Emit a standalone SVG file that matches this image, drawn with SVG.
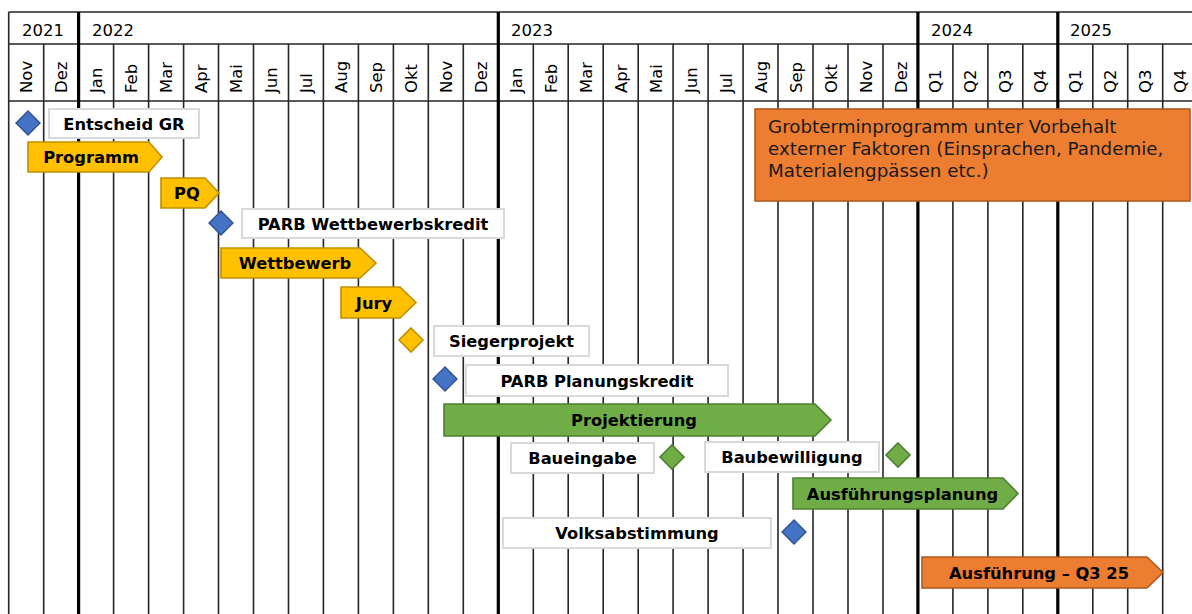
<svg xmlns="http://www.w3.org/2000/svg" width="1192" height="614" viewBox="0 0 1192 614">
<style>
.bg{fill:#fff}
.thin{stroke:#262626;stroke-width:1.6;fill:none}
.thick{stroke:#000;stroke-width:3.2;fill:none}
.hdr{font-family:"DejaVu Sans","Liberation Sans",sans-serif;font-size:16.5px;fill:#000}
.lbl{font-family:"DejaVu Sans","Liberation Sans",sans-serif;font-size:16.3px;font-weight:bold;fill:#000;text-anchor:middle}
.note{font-family:"DejaVu Sans","Liberation Sans",sans-serif;font-size:18.3px;fill:#1a1a1a}
.box{fill:#fff;stroke:#D9D9D9;stroke-width:2}
.yel{fill:#FFC000;stroke:#BF9000;stroke-width:1.6}
.grn{fill:#70AD47;stroke:#507E32;stroke-width:1.6}
.org{fill:#ED7D31;stroke:#AE5A21;stroke-width:1.6}
.blu{fill:#4472C4;stroke:#2F528F;stroke-width:1.4}
</style>
<rect class="bg" x="0" y="0" width="1192" height="614"/>
<g id="grid">
<path class="thin" d="M8.7 12H1192M8.7 44H1192M8.7 101H1192"/>
<path class="thin" d="M8.7 12V614M43.7 44V614M113.6 44V614M148.6 44V614M183.6 44V614M218.5 44V614M253.5 44V614M288.5 44V614M323.4 44V614M358.4 44V614M393.4 44V614M428.3 44V614M463.3 44V614M533.3 44V614M568.2 44V614M603.2 44V614M638.2 44V614M673.1 44V614M708.1 44V614M743.1 44V614M778 44V614M813 44V614M848 44V614M883 44V614M952.9 44V614M987.9 44V614M1022.8 44V614M1092.8 44V614M1127.7 44V614M1162.7 44V614"/>
<path class="thick" d="M78.6 12V614M498.3 12V614M917.9 12V614M1057.8 12V614"/>
</g>
<g id="header" class="hdr">
<text x="22" y="36">2021</text>
<text x="92" y="36">2022</text>
<text x="511" y="36">2023</text>
<text x="931" y="36">2024</text>
<text x="1070" y="36">2025</text>
<text transform="translate(32.2 93) rotate(-90)">Nov</text>
<text transform="translate(67.2 93) rotate(-90)">Dez</text>
<text transform="translate(102.1 93) rotate(-90)">Jan</text>
<text transform="translate(137.1 93) rotate(-90)">Feb</text>
<text transform="translate(172.1 93) rotate(-90)">Mar</text>
<text transform="translate(207.1 93) rotate(-90)">Apr</text>
<text transform="translate(242 93) rotate(-90)">Mai</text>
<text transform="translate(277 93) rotate(-90)">Jun</text>
<text transform="translate(312 93) rotate(-90)">Jul</text>
<text transform="translate(346.9 93) rotate(-90)">Aug</text>
<text transform="translate(381.9 93) rotate(-90)">Sep</text>
<text transform="translate(416.9 93) rotate(-90)">Okt</text>
<text transform="translate(451.8 93) rotate(-90)">Nov</text>
<text transform="translate(486.8 93) rotate(-90)">Dez</text>
<text transform="translate(521.8 93) rotate(-90)">Jan</text>
<text transform="translate(556.8 93) rotate(-90)">Feb</text>
<text transform="translate(591.7 93) rotate(-90)">Mar</text>
<text transform="translate(626.7 93) rotate(-90)">Apr</text>
<text transform="translate(661.7 93) rotate(-90)">Mai</text>
<text transform="translate(696.6 93) rotate(-90)">Jun</text>
<text transform="translate(731.6 93) rotate(-90)">Jul</text>
<text transform="translate(766.6 93) rotate(-90)">Aug</text>
<text transform="translate(801.5 93) rotate(-90)">Sep</text>
<text transform="translate(836.5 93) rotate(-90)">Okt</text>
<text transform="translate(871.5 93) rotate(-90)">Nov</text>
<text transform="translate(906.5 93) rotate(-90)">Dez</text>
<text transform="translate(941.4 93) rotate(-90)">Q1</text>
<text transform="translate(976.4 93) rotate(-90)">Q2</text>
<text transform="translate(1011.4 93) rotate(-90)">Q3</text>
<text transform="translate(1046.3 93) rotate(-90)">Q4</text>
<text transform="translate(1081.3 93) rotate(-90)">Q1</text>
<text transform="translate(1116.3 93) rotate(-90)">Q2</text>
<text transform="translate(1151.2 93) rotate(-90)">Q3</text>
<text transform="translate(1186.2 93) rotate(-90)">Q4</text>
</g>
<g id="note">
<rect class="org" x="755" y="109" width="435" height="92"/>
<text class="note" x="768" y="132.5">Grobterminprogramm unter Vorbehalt</text>
<text class="note" x="768" y="154.5">externer Faktoren (Einsprachen, Pandemie,</text>
<text class="note" x="768" y="176.5">Materialengpässen etc.)</text>
</g>
<g id="entscheid-gr">
<path class="blu" d="M28 111L40 123L28 135L16 123Z"/>
<rect class="box" x="49" y="109" width="150" height="29"/>
<text class="lbl" x="124" y="129.5">Entscheid GR</text>
</g>
<g id="programm">
<path class="yel" d="M28 142H149L162 157L149 172H28Z"/>
<text class="lbl" x="91" y="163">Programm</text>
</g>
<g id="pq">
<path class="yel" d="M161 178H205L219 193L205 208H161Z"/>
<text class="lbl" x="187" y="199">PQ</text>
</g>
<g id="parb-wettbewerbskredit">
<path class="blu" d="M221 211L233 223L221 235L209 223Z"/>
<rect class="box" x="242" y="209" width="262" height="29"/>
<text class="lbl" x="373" y="229.5">PARB Wettbewerbskredit</text>
</g>
<g id="wettbewerb">
<path class="yel" d="M221 248H360L376 263L360 278H221Z"/>
<text class="lbl" x="295" y="269">Wettbewerb</text>
</g>
<g id="jury">
<path class="yel" d="M341 287H400L416 302.5L400 318H341Z"/>
<text class="lbl" x="374" y="308.5">Jury</text>
</g>
<g id="siegerprojekt">
<path class="yel" d="M411 328L423 340L411 352L399 340Z"/>
<rect class="box" x="434" y="326" width="155" height="30"/>
<text class="lbl" x="511.5" y="347">Siegerprojekt</text>
</g>
<g id="parb-planungskredit">
<path class="blu" d="M445 367L457 379L445 391L433 379Z"/>
<rect class="box" x="466" y="365" width="262" height="31"/>
<text class="lbl" x="597" y="386.5">PARB Planungskredit</text>
</g>
<g id="projektierung">
<path class="grn" d="M444 404H815L831 420L815 436H444Z"/>
<text class="lbl" x="634" y="426">Projektierung</text>
</g>
<g id="baueingabe">
<rect class="box" x="511" y="443" width="143" height="30"/>
<text class="lbl" x="582.5" y="464">Baueingabe</text>
<path class="grn" d="M672 445L684 457L672 469L660 457Z"/>
</g>
<g id="baubewilligung">
<rect class="box" x="705" y="442" width="174" height="30"/>
<text class="lbl" x="792" y="463">Baubewilligung</text>
<path class="grn" d="M898 443L910 455L898 467L886 455Z"/>
</g>
<g id="ausfuehrungsplanung">
<path class="grn" d="M793 478H1003L1018 493.5L1003 509H793Z"/>
<text class="lbl" x="902.5" y="499.5">Ausführungsplanung</text>
</g>
<g id="volksabstimmung">
<rect class="box" x="503" y="518" width="268" height="30"/>
<text class="lbl" x="637" y="539">Volksabstimmung</text>
<path class="blu" d="M794 520L806 532L794 544L782 532Z"/>
</g>
<g id="ausfuehrung">
<path class="org" d="M922 557H1147L1163 572.5L1147 588H922Z"/>
<text class="lbl" x="1039" y="578.5">Ausführung – Q3 25</text>
</g>
</svg>
